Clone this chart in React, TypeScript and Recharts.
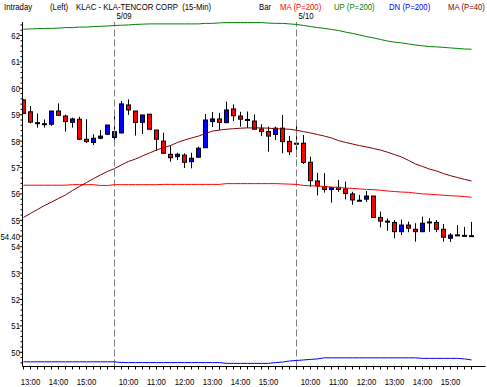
import React from 'react';
import { ComposedChart, Bar, Line, XAxis, YAxis, ReferenceLine } from 'recharts';

const FONT = "'Liberation Sans', Arial, sans-serif";
const FS = 9.5;
const SX = 0.82;

const day1Times = ['12:45','13:00','13:15','13:30','13:45','14:00','14:15','14:30','14:45','15:00','15:15','15:30','15:45'];
const sessionTimes = ['9:30','9:45','10:00','10:15','10:30','10:45','11:00','11:15','11:30','11:45','12:00','12:15','12:30','12:45','13:00','13:15','13:30','13:45','14:00','14:15','14:30','14:45','15:00','15:15','15:30','15:45'];
const times = [...day1Times, ...sessionTimes, ...sessionTimes];

const dayStarts = [13, 39];
const dayLabels = ['5/09', '5/10'];

const open = [59.56,59.11,58.68,58.64,58.64,59.14,58.95,58.71,58.83,58.07,57.95,58.11,58.26,
  58.14,58.31,59.37,59.14,58.71,59.02,58.42,58.00,57.50,57.41,57.47,57.22,57.39,57.75,58.74,58.84,58.70,59.22,58.95,58.80,58.76,58.46,58.36,58.25,58.49,57.99,
  57.90,57.92,57.20,56.49,56.27,56.17,56.25,56.19,56.00,55.74,55.80,55.92,55.11,54.95,54.92,54.57,54.82,54.66,54.57,54.92,54.92,54.66,54.32,54.43,54.41,54.40];
const high = [59.58,59.33,59.05,58.82,59.14,59.43,59.00,58.89,58.92,58.83,58.26,58.42,58.61,
  59.11,59.52,59.58,59.14,58.99,59.02,58.42,58.32,57.83,57.56,57.54,57.56,57.79,59.03,59.10,59.07,59.49,59.39,59.11,59.12,59.01,58.64,58.55,58.55,58.99,58.20,
  58.61,58.23,57.41,56.80,56.79,56.24,56.53,56.46,56.08,55.96,56.11,55.92,55.33,55.07,55.01,55.03,54.95,54.89,55.14,55.08,55.01,54.86,54.51,54.82,54.75,54.94];
const low = [59.03,58.67,58.51,58.51,58.58,58.95,58.36,58.51,58.04,57.93,57.85,58.07,58.23,
  58.04,58.29,58.99,58.21,58.27,58.45,57.63,57.53,57.22,57.28,56.98,56.97,57.39,57.74,58.53,58.42,58.68,58.76,58.55,58.50,58.45,58.19,57.60,58.04,57.54,57.47,
  57.40,57.13,56.27,55.94,56.05,55.67,56.08,55.79,55.59,55.74,55.70,55.08,54.73,54.60,54.32,54.44,54.55,54.19,54.55,54.57,54.55,54.19,54.18,54.43,54.41,54.40];
const close = [59.05,58.72,58.68,58.64,59.14,58.98,58.74,58.84,58.07,57.98,58.11,58.19,58.61,
  58.36,59.41,59.18,58.71,58.99,58.45,58.07,57.54,57.37,57.50,57.20,57.35,57.73,58.80,58.84,58.71,59.18,58.96,58.83,58.80,58.45,58.36,58.19,58.49,57.98,57.60,
  57.90,57.19,56.50,56.30,56.17,56.24,56.17,56.02,55.77,55.74,55.92,55.11,54.97,54.95,54.57,54.82,54.70,54.57,54.89,54.92,54.66,54.36,54.44,54.43,54.41,54.40];

const ma200 = [56.33,56.33,56.33,56.33,56.33,56.33,56.33,56.35,56.35,56.35,56.35,56.32,56.32,
  56.35,56.35,56.35,56.35,56.35,56.35,56.35,56.36,56.36,56.36,56.36,56.36,56.36,56.36,56.36,56.36,56.39,56.39,56.39,56.39,56.39,56.39,56.39,56.39,56.38,56.37,
  56.36,56.32,56.31,56.30,56.28,56.26,56.24,56.22,56.21,56.19,56.17,56.16,56.14,56.11,56.09,56.07,56.06,56.03,56.00,55.99,55.97,55.95,55.93,55.92,55.90,55.87];
const up = [62.24,62.25,62.26,62.27,62.27,62.28,62.30,62.30,62.32,62.32,62.34,62.35,62.36,
  62.38,62.39,62.40,62.42,62.43,62.44,62.44,62.44,62.44,62.44,62.44,62.44,62.44,62.46,62.46,62.48,62.49,62.49,62.49,62.49,62.49,62.49,62.47,62.46,62.46,62.44,
  62.42,62.38,62.34,62.30,62.27,62.23,62.19,62.13,62.08,62.02,61.96,61.91,61.85,61.79,61.75,61.72,61.68,61.64,61.61,61.58,61.57,61.55,61.53,61.51,61.49,61.48];
const dn = [49.64,49.64,49.64,49.64,49.64,49.64,49.64,49.64,49.64,49.64,49.64,49.64,49.64,
  49.64,49.61,49.61,49.61,49.61,49.61,49.61,49.61,49.61,49.61,49.61,49.61,49.61,49.61,49.61,49.61,49.58,49.58,49.58,49.58,49.58,49.58,49.58,49.61,49.63,49.67,
  49.69,49.71,49.73,49.75,49.79,49.79,49.79,49.79,49.79,49.79,49.79,49.79,49.79,49.79,49.79,49.79,49.79,49.79,49.77,49.77,49.77,49.77,49.77,49.77,49.75,49.71];
const ma40 = [55.11,55.26,55.41,55.56,55.69,55.83,55.96,56.13,56.28,56.43,56.58,56.72,56.85,
  56.96,57.10,57.23,57.32,57.44,57.55,57.66,57.76,57.83,57.95,58.04,58.12,58.19,58.29,58.38,58.42,58.45,58.47,58.49,58.50,58.50,58.50,58.49,58.47,58.46,58.45,
  58.41,58.36,58.31,58.25,58.19,58.12,58.02,57.95,57.89,57.83,57.78,57.72,57.66,57.58,57.49,57.40,57.27,57.13,57.04,56.94,56.87,56.77,56.69,56.62,56.55,56.49];

const yMajorTicks = [50, 51, 52, 53, 54, 55, 56, 57, 58, 59, 60, 61, 62];
const lastPrice = 54.40;
const yDomain: [number, number] = [49.462, 62.512];

const yMinorTicks: number[] = [];
for (let k = 248; k <= 312; k++) {
  const v = +(k * 0.2).toFixed(2);
  if (yMajorTicks.indexOf(v) < 0 && Math.abs(v - lastPrice) > 0.01) yMinorTicks.push(v);
}
const yTicks = [...yMajorTicks, lastPrice, ...yMinorTicks];
const xTicks = times.map((_, i) => i);

const data = times.map((t, i) => ({
  i, t, o: open[i], h: high[i], l: low[i], c: close[i],
  range: [low[i], high[i]],
  ma200: ma200[i], up: up[i], dn: dn[i], ma40: ma40[i],
}));

const NText = ({ x, y, anchor = 'start', fill = '#000', children }: any) => (
  <text
    transform={`translate(${x},${y}) scale(${SX},1)`}
    x={0}
    y={0}
    textAnchor={anchor}
    fontSize={FS}
    fontFamily={FONT}
    fill={fill}
    style={{ whiteSpace: 'pre' }}
  >
    {children}
  </text>
);

const Candle = (props: any) => {
  const { x, y, width, height, payload } = props;
  if (x == null || y == null) return null;
  const cx = x + width / 2;
  const top = Math.min(y, y + height);
  const bot = Math.max(y, y + height);
  const { o, h, l, c } = payload;
  const ppu = (bot - top) / (h - l);
  const bTop = top + (h - Math.max(o, c)) * ppu;
  const bBot = top + (h - Math.min(o, c)) * ppu;
  const color = c > o ? '#0000FF' : '#FF0000';
  return (
    <g>
      <line x1={cx} x2={cx} y1={top} y2={bot} stroke="#000" strokeWidth={1} />
      {o === c ? (
        <rect x={cx - 2.5} y={bTop - 1} width={5} height={2} fill="#000" />
      ) : (
        <rect x={cx - 2} y={bTop} width={4} height={Math.max(bBot - bTop, 1)} fill={color} stroke="#000" strokeWidth={1} />
      )}
    </g>
  );
};

const YTick = (props: any) => {
  const { x, y, payload } = props;
  const v = payload.value;
  const isLast = Math.abs(v - lastPrice) < 0.001;
  const isMajor = isLast || yMajorTicks.indexOf(v) >= 0;
  return (
    <g>
      <line x1={x - (isMajor ? 3 : 2)} x2={x} y1={y} y2={y} stroke="#000" strokeWidth={1} />
      {isMajor && (
        <NText x={x - 2.5} y={y + 3.4} anchor="end">
          {isLast ? v.toFixed(2) : String(v)}
        </NText>
      )}
    </g>
  );
};

const XTick = (props: any) => {
  const { x, y, payload } = props;
  const idx = payload.value;
  const label = times[idx];
  const showLabel = label && label.endsWith(':00');
  return (
    <g>
      <line x1={x} x2={x} y1={y} y2={y + 3} stroke="#000" strokeWidth={1} />
      {showLabel && (
        <NText x={x} y={y + 18} anchor="middle">
          {label}
        </NText>
      )}
    </g>
  );
};

const DayLabel = (props: any) => {
  const vb = props.viewBox || {};
  return (
    <NText x={(vb.x || 0) + 2} y={(vb.y || 0) - 3.5}>
      {props.text}
    </NText>
  );
};

const headerItems = [
  { text: 'Intraday', x: 4, color: '#000000' },
  { text: '(Left)', x: 50, color: '#000000' },
  { text: 'KLAC - KLA-TENCOR CORP  (15-Min)', x: 76, color: '#000000' },
  { text: 'Bar', x: 259, color: '#000000' },
  { text: 'MA (P=200)', x: 280, color: '#FF0000' },
  { text: 'UP (P=200)', x: 334, color: '#008000' },
  { text: 'DN (P=200)', x: 389, color: '#0000FF' },
  { text: 'MA (P=40)', x: 448, color: '#800000' },
];

export default function App() {
  return (
    <div style={{ position: 'fixed', left: 0, top: 0, width: 487, height: 387, background: '#fff' }}>
      <ComposedChart
        width={487}
        height={387}
        data={data}
        margin={{ top: 22, right: 1.5, bottom: 0.5, left: 0.5 }}
      >
        <XAxis
          type="number"
          dataKey="i"
          domain={[-1 / 7, 66]}
          allowDataOverflow
          ticks={xTicks}
          interval={0}
          tick={<XTick />}
          tickLine={false}
          tickSize={0}
          tickMargin={0}
          height={20}
          axisLine={{ stroke: '#000' }}
        />
        <YAxis
          type="number"
          domain={yDomain}
          allowDataOverflow
          ticks={yTicks}
          interval={0}
          tick={<YTick />}
          tickLine={false}
          tickSize={0}
          tickMargin={0}
          width={22}
          axisLine={{ stroke: '#000' }}
        />
        {dayStarts.map((d, k) => (
          <ReferenceLine
            key={d}
            x={d}
            stroke="#808080"
            strokeDasharray="7 3"
            label={<DayLabel text={dayLabels[k]} />}
          />
        ))}
        <Line type="linear" dataKey="up" stroke="#008000" strokeWidth={1} dot={false} isAnimationActive={false} />
        <Line type="linear" dataKey="dn" stroke="#0000FF" strokeWidth={1} dot={false} isAnimationActive={false} />
        <Line type="linear" dataKey="ma200" stroke="#FF0000" strokeWidth={1} dot={false} isAnimationActive={false} />
        <Line type="linear" dataKey="ma40" stroke="#800000" strokeWidth={1} dot={false} isAnimationActive={false} />
        <Bar dataKey="range" barSize={5} shape={<Candle />} isAnimationActive={false} />
      </ComposedChart>
      <svg width={487} height={22} style={{ position: 'absolute', left: 0, top: 0 }}>
        {headerItems.map((h) => (
          <NText key={h.text} x={h.x} y={9.5} fill={h.color}>
            {h.text}
          </NText>
        ))}
      </svg>
    </div>
  );
}
